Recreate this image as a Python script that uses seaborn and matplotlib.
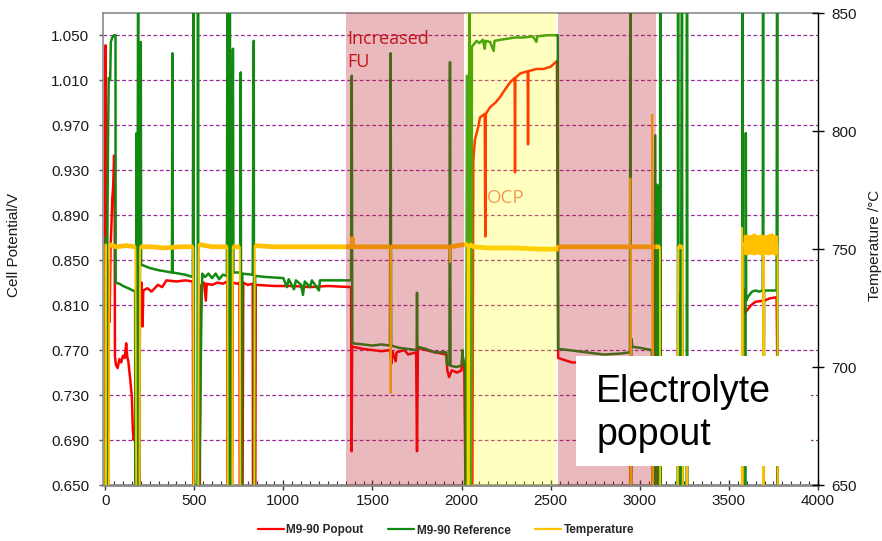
import numpy as np
import pandas as pd
import seaborn as sns
import matplotlib
matplotlib.use("Agg")
from matplotlib import pyplot as plt
from matplotlib.ticker import MultipleLocator
from matplotlib.patches import Rectangle
from matplotlib.lines import Line2D

# Daten, Werte ausserhalb des Bereichs = Ausreisser / Luecken
popout_x = [0, 2, 4, 8, 14, 20, 25, 30, 35, 40, 45, 50, 53, 55, 60, 70, 80, 90, 100, 110, 118, 124,
            130, 140, 150, 155, 160, 168, 176, 178, 192, 195, 200, 204, 210, 214, 237, 260, 296, 320,
            344, 400, 450, 492, 495, 530, 535, 540, 555, 565, 570, 600, 630, 660, 685, 688, 712, 716,
            740, 754, 756, 770, 775, 800, 828, 830, 842, 845, 950, 1050, 1150, 1250, 1380, 1383, 1386,
            1450, 1500, 1550, 1600, 1606, 1612, 1630, 1635, 1680, 1700, 1745, 1750, 1755, 1800, 1850,
            1915, 1920, 1930, 1945, 1975, 2000, 2005, 2015, 2025, 2060, 2066, 2075, 2090, 2104, 2130,
            2133, 2136, 2160, 2190, 2216, 2245, 2272, 2298, 2300, 2302, 2329, 2371, 2373, 2375, 2420,
            2460, 2500, 2535, 2542, 2580, 2620, 2700, 2800, 2900, 2945, 2947, 2960, 3068, 3072, 3098,
            3098, 3112, 3112, 3215, 3215, 3237, 3237, 3578, 3582, 3590, 3605, 3625, 3650, 3700, 3730,
            3768, 3771, 3774]
popout_v = [0.60, 1.041, 0.60, 0.86, 0.60, 0.85, 0.795, 0.86, 0.88, 0.905, 0.915, 0.943, 0.930, 0.765,
            0.757, 0.754, 0.762, 0.759, 0.765, 0.763, 0.776, 0.764, 0.760, 0.745, 0.728, 0.700, 0.690,
            0.697, 0.690, 0.60, 0.60, 0.825, 0.806, 0.830, 0.791, 0.823, 0.825, 0.822, 0.828, 0.826,
            0.832, 0.831, 0.832, 0.831, 0.60, 0.60, 0.797, 0.828, 0.830, 0.814, 0.829, 0.828, 0.830,
            0.829, 0.831, 0.60, 0.60, 0.830, 0.829, 0.830, 0.60, 0.60, 0.830, 0.828, 0.829, 0.60, 0.60,
            0.828, 0.827, 0.827, 0.826, 0.827, 0.826, 0.680, 0.773, 0.771, 0.770, 0.769, 0.770, 0.758,
            0.769, 0.760, 0.768, 0.770, 0.766, 0.768, 0.680, 0.772, 0.770, 0.768, 0.766, 0.752, 0.746,
            0.752, 0.750, 0.752, 0.765, 0.758, 0.60, 0.60, 0.939, 0.957, 0.966, 0.977, 0.980, 0.871,
            0.980, 0.986, 0.990, 0.995, 1.002, 1.008, 1.012, 0.928, 1.012, 1.016, 1.018, 0.953, 1.018,
            1.020, 1.020, 1.022, 1.027, 0.763, 0.761, 0.759, 0.759, 0.758, 0.759, 0.760, 0.60, 0.762,
            0.762, 0.60, 0.60, 0.808, 0.799, 0.60, 0.60, 0.805, 0.798, 0.60, 0.60, 0.825, 0.803, 0.806,
            0.810, 0.813, 0.814, 0.816, 0.817, 0.770, 0.60]

ref_x = [0, 5, 8, 12, 16, 20, 28, 32, 40, 50, 58, 59, 80, 100, 130, 168, 170, 176, 178, 185, 190, 200,
         202, 250, 300, 375, 377, 379, 450, 492, 495, 500, 518, 521, 524, 540, 545, 560, 580, 600, 620,
         640, 660, 683, 686, 690, 700, 705, 717, 720, 758, 761, 764, 770, 828, 834, 836, 842, 900, 1000,
         1020, 1030, 1060, 1070, 1100, 1110, 1120, 1150, 1160, 1200, 1205, 1380, 1384, 1387, 1450, 1500,
         1550, 1598, 1602, 1605, 1650, 1700, 1748, 1750, 1752, 1800, 1850, 1915, 1918, 1932, 1935, 1938,
         1970, 2000, 2005, 2010, 2022, 2025, 2031, 2036, 2045, 2048, 2056, 2058, 2070, 2084, 2100, 2120,
         2130, 2135, 2160, 2180, 2185, 2220, 2260, 2300, 2350, 2400, 2420, 2425, 2480, 2540, 2542, 2600,
         2700, 2800, 2900, 2945, 2947, 2950, 2953, 2958, 3000, 3068, 3075, 3087, 3090, 3098, 3100, 3112,
         3115, 3118, 3213, 3215, 3218, 3225, 3228, 3237, 3240, 3263, 3265, 3268, 3576, 3577, 3579, 3593,
         3595, 3597, 3610, 3630, 3650, 3670, 3690, 3692, 3695, 3698, 3730, 3768, 3770, 3772, 3774]
ref_v = [0.60, 0.87, 0.60, 0.86, 0.958, 1.012, 1.010, 1.044, 1.048, 1.050, 1.050, 0.830, 0.829, 0.827,
         0.825, 0.822, 0.60, 0.963, 0.60, 1.10, 0.60, 1.044, 0.846, 0.843, 0.841, 0.839, 1.034, 0.839,
         0.837, 0.835, 1.10, 0.60, 0.60, 1.10, 0.60, 0.799, 0.838, 0.835, 0.838, 0.834, 0.838, 0.833,
         0.837, 0.836, 1.10, 0.60, 1.10, 0.60, 1.038, 0.839, 0.839, 1.017, 0.60, 0.838, 0.837, 1.045,
         0.60, 0.836, 0.835, 0.834, 0.826, 0.833, 0.824, 0.832, 0.828, 0.819, 0.831, 0.826, 0.832, 0.823,
         0.832, 0.832, 1.014, 0.776, 0.775, 0.774, 0.775, 0.774, 1.034, 0.774, 0.772, 0.771, 0.770, 0.821,
         0.773, 0.771, 0.768, 0.768, 0.757, 0.757, 1.026, 0.756, 0.755, 0.756, 0.770, 0.759, 0.759, 0.60,
         1.014, 0.60, 1.10, 0.60, 0.772, 1.040, 1.042, 1.045, 1.043, 1.046, 1.038, 1.045, 1.044, 1.036,
         1.045, 1.046, 1.047, 1.048, 1.048, 1.049, 1.044, 1.049, 1.050, 1.050, 0.771, 0.770, 0.768, 0.766,
         0.767, 0.768, 1.10, 0.60, 0.780, 0.773, 0.772, 0.770, 0.60, 0.961, 0.60, 0.917, 0.825, 0.60,
         1.10, 0.60, 0.60, 1.10, 0.60, 0.82, 0.60, 1.10, 0.60, 0.60, 1.10, 0.60, 0.60, 1.10, 0.60, 0.60,
         0.963, 0.814, 0.818, 0.822, 0.823, 0.822, 0.823, 1.10, 0.60, 0.823, 0.823, 0.823, 1.10, 1.10, 0.60]

temp_x = [0, 3, 6, 20, 24, 60, 120, 170, 176, 192, 196, 260, 330, 420, 494, 497, 521, 525, 600, 686, 689,
          713, 716, 756, 759, 836, 839, 950, 1100, 1250, 1385, 1387, 1389, 1500, 1600, 1602, 1604, 1750,
          1850, 1933, 1935, 1937, 2020, 2034, 2036, 2040, 2043, 2070, 2150, 2300, 2450, 2538, 2545, 2700,
          2850, 2945, 2947, 2949, 2951, 3000, 3068, 3070, 3072, 3075, 3113, 3115, 3213, 3215, 3240, 3242,
          3264, 3266, 3268, 3572, 3574, 3576, 3578, 3693, 3694, 3696, 3773, 3775]
temp_c = [600, 752, 600, 600, 752, 751, 751.5, 751, 600, 600, 751, 751, 750.5, 751, 751, 600, 600, 752,
          751, 751, 600, 600, 751, 751, 600, 600, 751.5, 751, 751, 751, 751, 754.5, 751, 751, 751, 689,
          751, 751, 751, 751, 744.5, 751, 752, 752, 600, 600, 752, 751, 750.5, 750.5, 750, 750, 751, 751,
          751, 751, 780, 600, 751, 751, 751, 807, 600, 751, 751, 600, 600, 751, 751, 600, 600, 668, 600,
          600, 759, 600, 752, 752, 600, 752, 752, 600]

# verrauschtes Temperaturband am Ende
band_x = [3580, 3600, 3620, 3640, 3660, 3680, 3700, 3720, 3740, 3760, 3773]
band_lo = [748, 747.5, 748, 747.5, 748, 747.5, 748, 747.5, 748, 747.5, 748]
band_hi = [756, 756.5, 756, 757, 756, 756.5, 756, 756.5, 757, 756, 756]

# Markierte Bereiche
fu_spans = [(1350, 2015), (2540, 3090)]
ocp_span = (2023, 2530)

series_names = ['M9-90 Popout', 'M9-90 Reference', 'Temperature']
y_ticks = [0.650, 0.690, 0.730, 0.770, 0.810, 0.850, 0.890, 0.930, 0.970, 1.010, 1.050]
t_ticks = [650, 700, 750, 800, 850]

sns.set_style('white')
plt.rcParams['font.family'] = ['Liberation Sans', 'DejaVu Sans']

RED = '#ff0000'
GREEN = '#128a12'
GOLD = '#ffc000'

fig = plt.figure(figsize=(8.82, 5.41), dpi=100)
ax = fig.add_axes([0.1168, 0.1035, 0.8106, 0.8719])
ax2 = ax.twinx()

df_p = pd.DataFrame({'x': popout_x, 'v': popout_v})
df_r = pd.DataFrame({'x': ref_x, 'v': ref_v})
df_t = pd.DataFrame({'x': temp_x, 'c': temp_c})
# dickes Rauschband nur im normalen Temperaturbereich
df_t['band'] = df_t['c'].where((df_t['c'] > 745) & (df_t['c'] < 760))

sns.lineplot(data=df_p, x='x', y='v', sort=False, estimator=None, color=RED, lw=1.8, ax=ax, zorder=2)
sns.lineplot(data=df_r, x='x', y='v', sort=False, estimator=None, color=GREEN, lw=1.8, ax=ax, zorder=3)
sns.lineplot(data=df_t, x='x', y='c', sort=False, estimator=None, color=GOLD, lw=1.4, ax=ax2, zorder=2)
ax2.plot(df_t['x'], df_t['band'], color=GOLD, lw=3.4, zorder=2, solid_capstyle='butt')
ax2.fill_between(band_x, band_lo, band_hi, color=GOLD, lw=0, zorder=2)

# halbtransparente Bereiche ueber den Linien
for a, b in fu_spans:
    ax2.axvspan(a, b, color=(0.745, 0.114, 0.165), alpha=0.31, lw=0, zorder=5)
ax2.axvspan(ocp_span[0], ocp_span[1], color=(1.0, 1.0, 0.0), alpha=0.25, lw=0, zorder=5)

# Achsen
ax.set_xlim(-12, 4000)
ax.set_ylim(0.650, 1.0695)
ax2.set_ylim(650, 850)
ax.set_yticks(y_ticks)
ax.set_yticklabels([f'{v:.3f}' for v in y_ticks])
ax2.set_yticks(t_ticks)
ax.xaxis.set_major_locator(MultipleLocator(500))
ax.xaxis.set_minor_locator(MultipleLocator(50))

ax.set_axisbelow(True)
ax.yaxis.grid(True, color='#9a2a9a', ls=(0, (3, 2)), lw=0.9)
ax.xaxis.grid(False)

for s in ['left', 'top']:
    ax.spines[s].set_color('#8a8a8a')
    ax.spines[s].set_linewidth(1.2)
ax.spines['bottom'].set_color('#8a8a8a')
ax.spines['bottom'].set_linewidth(2.0)
ax.spines['right'].set_visible(False)
for s in ['left', 'top', 'bottom']:
    ax2.spines[s].set_visible(False)
ax2.spines['right'].set_color('black')
ax2.spines['right'].set_linewidth(1.0)

ax.tick_params(axis='y', which='major', direction='out', length=3, width=1, color='#555555',
               pad=7, labelsize=11, labelcolor='#1a1a1a', left=True)
ax.tick_params(axis='x', which='major', direction='inout', length=7, width=1, color='#333333',
               pad=3, labelsize=11, labelcolor='#1a1a1a', bottom=True)
ax.tick_params(axis='x', which='minor', direction='in', length=3, width=0.8, color='#333333', bottom=True)
ax2.tick_params(axis='y', direction='inout', length=9, width=1, color='black', pad=5,
                labelsize=11, labelcolor='#1a1a1a', right=True)

ax.set_xlabel('')
ax.set_ylabel('Cell Potential/V', fontsize=11, color='#1a1a1a')
ax2.set_ylabel('Temperature /\u00b0C', fontsize=11, color='#1a1a1a', rotation=90)
ax.yaxis.set_label_coords(-0.115, 0.51)
ax2.yaxis.set_label_coords(1.07, 0.508)

# Beschriftungen
ax.text(1357, 1.042, 'Increased', color='#c41414', fontsize=13, family=['Open Sans', 'DejaVu Sans'],
        va='baseline', ha='left', zorder=20)
ax.text(1357, 1.0216, 'FU', color='#c41414', fontsize=13, family=['Open Sans', 'DejaVu Sans'],
        va='baseline', ha='left', zorder=20)
ax2.text(2143, 650 + (485 - 203) / 2.36, 'OCP', color='#f09a5a', fontsize=13.5,
         family=['Open Sans', 'DejaVu Sans'], va='baseline', ha='left', zorder=7)

box = Rectangle((2643, 0.667), 3963 - 2643, 0.765 - 0.667, transform=ax.transData,
                facecolor='white', edgecolor='none', zorder=8)
ax2.add_patch(box)
ax2.text(2756, 650 + (485 - 402) / 2.36, 'Electrolyte', fontsize=27, color='black',
         va='baseline', ha='left', zorder=9)
ax2.text(2756, 650 + (485 - 445) / 2.36, 'popout', fontsize=27, color='black',
         va='baseline', ha='left', zorder=9)

# Legende unten
handles = [Line2D([], [], color=RED, lw=1.6), Line2D([], [], color=GREEN, lw=1.6),
           Line2D([], [], color=GOLD, lw=1.6)]
for a_ in (ax, ax2):
    if a_.get_legend() is not None:
        a_.get_legend().remove()
fig.legend(handles, series_names, loc='center', bbox_to_anchor=(446 / 882, 1 - 530.5 / 541), ncol=3,
           frameon=False, prop={'weight': 'bold', 'size': 8.5}, handlelength=2.2,
           handletextpad=0.2, columnspacing=2.1)

fig.savefig('out.png', dpi=100)
